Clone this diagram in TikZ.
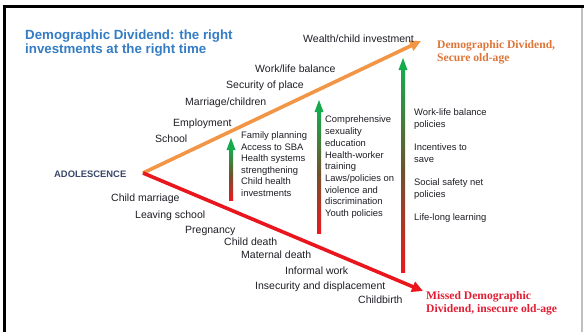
\documentclass[tikz,border=0pt]{standalone}
\usepackage{fontspec}
\setmainfont{Liberation Sans}
\newfontfamily\serifbold{Liberation Serif}
\usetikzlibrary{arrows.meta}
\definecolor{titleblue}{RGB}{52,124,196}
\definecolor{txtgray}{RGB}{30,30,38}
\definecolor{adolblue}{RGB}{58,72,105}
\definecolor{orgline}{RGB}{242,150,70}
\definecolor{orgtext}{RGB}{222,118,58}
\definecolor{redline}{RGB}{234,22,30}
\definecolor{redtext}{RGB}{226,30,52}
\definecolor{arrgreen}{RGB}{22,170,76}
\definecolor{arrred}{RGB}{235,25,30}
\newcommand{\gradarr}[3]{%
  \shade[bottom color=arrred, top color=arrgreen, middle color=arrred!50!arrgreen!85!black]
    (#1-2,#2) rectangle (#1+2,#3+11);
  \fill[arrgreen] (#1-4.5,#3+12) -- (#1,#3) -- (#1+4.5,#3+12) -- cycle;}
\begin{document}
\begin{tikzpicture}[x=1pt,y=-1pt,
  lbl/.style={font=\fontsize{10.5}{12}\selectfont, text=txtgray, inner sep=0pt, anchor=base west},
  blk/.style={font=\fontsize{9.4}{11.6}\selectfont, text=txtgray, inner sep=0pt, anchor=base west, align=left},
  endlbl/.style={font=\serifbold\bfseries\fontsize{11.6}{13}\selectfont, inner sep=0pt, anchor=base west, align=left},
  mainarrow/.style={line width=3.6pt, -{Triangle[length=11pt,width=10.5pt]}}]
\useasboundingbox (0,0) rectangle (586,332);
\fill[white] (0,0) rectangle (586,332);
% frame
\draw[black, line width=3pt] (4,332) -- (4,6) -- (584,6);
\draw[black!25, line width=1.2pt] (582,7.5) -- (582,332);
% title (anchor = baseline of last line)
\node[font=\bfseries\fontsize{13.3}{14}\selectfont, text=titleblue, inner sep=0pt, anchor=base west, align=left] (title) at (25,53)
  {Demographic Dividend: the right\\investments at the right time};
% origin
\node[font=\bfseries\fontsize{9.4}{11}\selectfont, text=adolblue, inner sep=0pt, anchor=base west] (adol) at (54,177) {ADOLESCENCE};
\coordinate (v) at (143,173);
\coordinate (otip) at (421,41);
\coordinate (rtip) at (423,291);
% end labels
\node[endlbl, text=orgtext] (dd) at (437,61) {Demographic Dividend,\\Secure old-age};
\node[endlbl, text=redtext] (md) at (426,312) {Missed Demographic\\Dividend, insecure old-age};
% main arrows
\draw[mainarrow, orgline] (v) -- (otip);
\draw[mainarrow, redline] (v) -- (rtip);
% upper labels
\node[lbl] (l1) at (303,42) {Wealth/child investment};
\node[lbl] (l2) at (255,72) {Work/life balance};
\node[lbl] (l3) at (226,88) {Security of place};
\node[lbl] (l4) at (185,105) {Marriage/children};
\node[lbl] (l5) at (173,126) {Employment};
\node[lbl] (l6) at (155,142) {School};
% lower labels
\node[lbl] (m1) at (111,201) {Child marriage};
\node[lbl] (m2) at (135,218) {Leaving school};
\node[lbl] (m3) at (185,233) {Pregnancy};
\node[lbl] (m4) at (224,245) {Child death};
\node[lbl] (m5) at (241,258) {Maternal death};
\node[lbl] (m6) at (285,274) {Informal work};
\node[lbl] (m7) at (255,289) {Insecurity and displacement};
\node[lbl] (m8) at (358,303) {Childbirth};
% gradient arrows
\gradarr{231}{200}{138}
\gradarr{319}{233}{100}
\gradarr{403}{272}{58}
% blocks (anchor = baseline of last line)
\node[blk] (b1) at (241,196.5) {Family planning\\Access to SBA\\Health systems\\strengthening\\Child health\\investments};
\node[blk, font=\fontsize{9.4}{11.7}\selectfont] (b2) at (325,216.5) {Comprehensive\\sexuality\\education\\Health-worker\\training\\Laws/policies on\\violence and\\discrimination\\Youth policies};
\node[blk, font=\fontsize{9.4}{12}\selectfont] (b3) at (414,220.5) {Work-life balance\\policies\\[11pt]Incentives to\\save\\[11pt]Social safety net\\policies\\[11pt]Life-long learning};
\end{tikzpicture}
\end{document}
